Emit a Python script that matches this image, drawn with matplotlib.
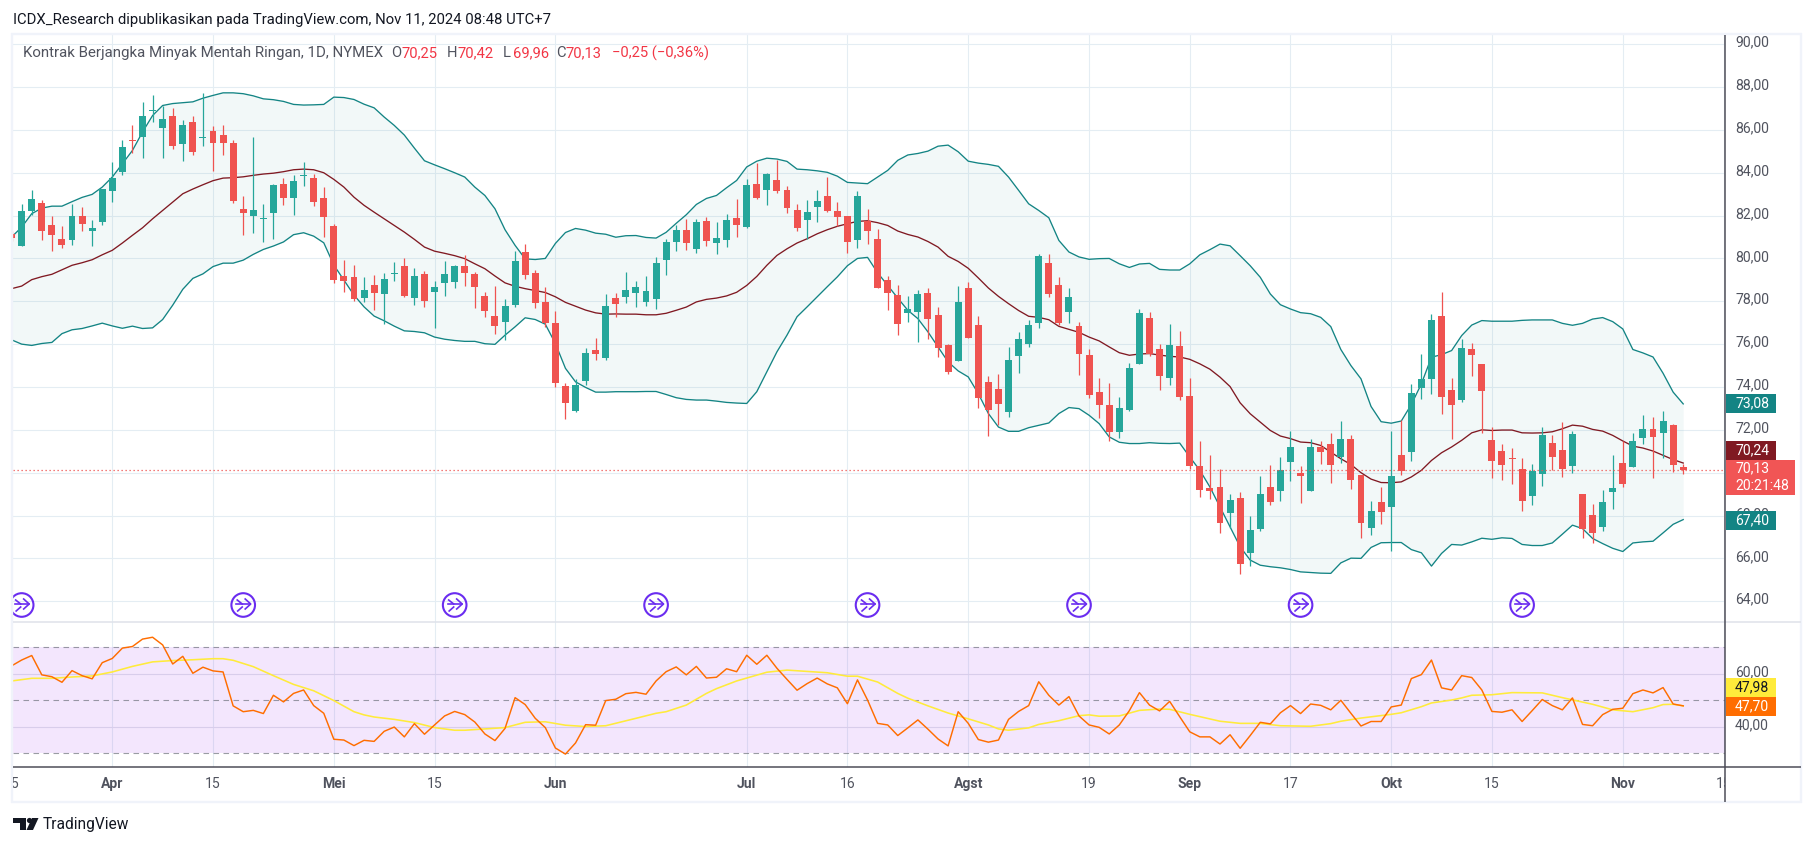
import matplotlib
matplotlib.use("Agg")
import matplotlib.pyplot as plt
from matplotlib.patches import Circle, Polygon, Rectangle

plt.rcParams['font.family'] = ['Roboto', 'DejaVu Sans']

first_bar = -10
opens = [81.15,80.56,82.20,82.57,81.54,80.89,80.84,81.96,81.26,81.68,
83.13,84.02,85.51,85.65,86.89,86.07,86.63,85.32,86.35,85.62,
85.97,85.74,85.41,82.29,81.96,81.84,82.10,83.46,82.80,83.83,
83.74,82.80,81.50,79.17,79.13,78.15,78.75,78.33,79.27,79.64,
78.15,79.27,78.43,78.85,78.89,79.64,79.27,78.24,77.31,77.03,
77.82,80.29,79.31,77.96,76.98,74.04,72.88,74.28,75.72,75.35,
78.15,78.19,78.38,77.96,78.10,79.92,80.76,81.32,80.43,81.74,
80.72,80.85,81.87,81.45,83.46,83.18,83.64,83.18,82.24,81.78,
82.38,82.90,82.20,81.96,80.84,81.73,80.89,78.98,78.28,77.44,
77.48,78.37,77.34,75.94,75.20,78.60,76.88,74.22,73.89,72.82,
75.43,75.99,76.97,79.77,78.74,77.48,76.83,75.48,73.75,73.14,
71.89,72.91,75.06,77.20,75.76,74.40,75.90,73.56,70.30,69.27,
69.32,68.11,68.81,66.24,67.36,69.32,69.13,70.48,69.97,69.13,
71.18,71.32,70.72,71.55,69.88,67.41,68.62,68.39,70.81,70.95,
73.93,74.35,77.33,73.84,73.37,75.75,75.05,71.51,70.99,70.67,
70.16,68.90,69.92,71.37,71.04,70.30,68.99,68.01,67.45,69.08,
70.44,70.25,71.60,72.02,71.83,72.21,70.25]
closes = [80.97,82.20,82.76,81.26,81.08,80.61,81.96,81.59,81.40,83.22,
83.74,85.18,85.46,86.63,86.95,86.49,85.23,86.25,84.99,85.69,
85.41,85.37,82.66,82.10,82.24,81.90,83.41,82.80,83.60,83.88,
82.62,81.92,78.98,78.94,78.10,78.52,78.38,79.03,79.31,78.24,
79.17,78.01,78.66,79.27,79.64,79.31,78.66,77.54,76.84,77.77,
79.87,79.22,77.91,76.98,74.18,73.25,74.09,75.58,75.53,77.77,
77.87,78.52,78.66,78.47,79.78,80.76,81.32,80.72,81.69,80.81,
80.95,81.79,81.54,83.41,82.80,83.92,83.13,82.34,81.40,82.15,
82.66,82.20,81.92,80.75,82.90,81.26,78.60,78.37,76.92,77.62,
78.32,77.16,75.80,74.69,77.95,76.27,73.47,72.91,73.19,75.24,
76.22,76.88,80.10,78.32,76.97,78.18,75.53,73.61,73.14,71.89,
73.00,74.87,77.44,75.53,74.50,75.94,73.52,70.30,69.18,69.13,
67.64,68.71,65.73,67.31,68.99,68.62,70.11,71.18,69.83,71.18,
70.95,70.34,71.55,69.64,67.64,68.20,68.15,69.83,70.06,73.70,
74.39,77.14,73.51,73.18,75.84,75.51,73.79,70.53,70.34,70.62,
68.66,70.06,71.74,70.71,70.16,71.79,67.36,67.17,68.62,69.27,
69.46,71.46,72.02,71.65,72.39,70.34,70.13]
highs = [81.30,82.52,83.18,82.71,81.96,81.50,82.52,82.38,81.78,83.22,
84.51,85.54,86.25,87.28,87.65,87.13,87.00,86.44,86.67,87.70,
86.16,86.21,85.55,82.90,85.69,82.52,83.46,83.74,83.88,84.48,
83.92,83.32,81.59,79.92,79.69,79.13,79.22,79.31,79.83,80.01,
79.55,79.41,78.94,79.87,79.69,80.15,79.36,78.43,78.71,78.10,
80.34,80.67,79.45,78.66,77.54,74.18,74.37,75.81,76.28,78.33,
78.38,79.36,78.94,79.17,80.06,80.90,81.55,81.83,81.83,81.93,
81.69,82.07,82.76,83.69,84.44,83.97,84.58,83.36,82.52,82.71,
83.18,83.78,82.62,81.96,83.13,82.29,81.36,79.16,78.74,78.23,
78.51,78.60,77.72,75.99,78.70,78.88,77.30,74.50,74.59,75.85,
76.55,77.11,80.19,80.19,79.12,78.60,77.02,75.76,74.40,74.17,
73.52,75.10,77.62,77.48,75.99,76.92,76.60,74.44,71.46,70.81,
70.16,68.99,69.09,67.97,69.83,70.34,70.72,71.93,70.30,71.55,
71.46,71.83,72.39,71.74,69.88,68.67,69.32,71.93,72.48,74.12,
75.56,77.42,78.45,74.44,76.26,76.07,75.09,72.11,71.32,71.13,
70.67,70.39,72.11,71.74,72.35,71.93,68.99,68.53,69.18,70.81,
71.46,71.83,72.67,72.62,72.90,72.25,70.42]
lows = [80.80,80.56,82.01,80.84,80.34,80.47,80.61,81.26,80.56,81.54,
82.62,83.88,84.90,84.67,86.35,84.71,85.13,84.57,84.85,85.27,
84.06,84.81,82.57,81.08,81.17,80.75,80.89,82.48,82.01,83.36,
82.43,80.98,78.84,78.43,78.01,77.96,77.59,76.93,78.94,78.19,
77.82,77.73,76.75,78.24,78.61,78.71,77.68,77.26,76.47,76.19,
77.73,79.03,77.68,76.79,74.00,72.50,72.83,74.09,75.25,75.25,
77.26,77.91,77.73,77.77,77.63,79.22,80.34,80.39,80.25,80.57,
80.20,80.53,80.98,81.40,82.76,82.48,83.04,82.10,81.26,80.89,
81.68,82.15,81.50,80.24,80.47,80.66,78.60,77.58,76.41,77.02,
76.09,76.22,75.39,74.59,75.20,76.27,73.00,71.70,72.21,72.59,
74.64,75.85,76.74,78.18,76.88,76.97,74.55,73.47,72.54,71.46,
71.61,72.86,75.06,75.43,73.84,74.08,73.38,70.16,68.85,68.76,
67.18,67.41,65.27,65.64,67.27,68.48,68.67,69.60,68.57,69.13,
70.39,69.50,70.44,69.22,66.94,67.08,67.59,66.34,69.88,70.53,
73.46,73.65,72.72,71.55,73.28,74.53,71.83,69.74,69.64,69.46,
68.20,68.48,69.36,70.11,69.78,69.97,66.94,66.71,67.27,68.29,
69.32,70.25,71.32,69.74,70.67,70.02,69.96]

bb_upper = [81.00,81.46,82.09,82.35,82.44,82.44,82.65,82.85,82.99,83.33,
83.80,84.42,85.04,85.90,86.67,87.14,87.23,87.27,87.31,87.48,
87.61,87.73,87.73,87.69,87.59,87.45,87.41,87.33,87.19,87.16,
87.17,87.19,87.53,87.51,87.42,87.20,87.03,86.60,86.21,85.76,
85.15,84.56,84.37,84.19,84.00,83.80,83.33,82.94,82.32,81.34,
80.61,79.98,79.95,80.00,80.70,81.21,81.40,81.32,81.18,81.13,
80.99,81.06,81.07,80.98,80.95,81.22,81.64,82.04,82.52,82.80,
82.94,83.30,83.64,84.27,84.54,84.68,84.64,84.53,84.17,84.14,
84.09,84.02,83.84,83.55,83.52,83.49,83.80,84.11,84.58,84.83,
84.90,85.01,85.24,85.29,84.98,84.54,84.45,84.39,84.30,83.80,
83.18,82.55,82.24,81.90,80.84,80.30,80.07,79.96,79.99,80.00,
79.75,79.58,79.74,79.77,79.49,79.46,79.46,79.75,80.17,80.41,
80.67,80.59,80.13,79.66,79.12,78.34,77.84,77.64,77.47,77.42,
77.25,76.82,75.75,75.00,74.38,73.09,72.38,72.31,72.41,73.18,
74.15,75.39,75.51,75.70,76.40,76.89,77.10,77.07,77.07,77.07,
77.11,77.13,77.13,77.13,76.97,76.88,76.97,77.17,77.24,77.05,
76.71,75.75,75.59,75.40,74.64,73.76,73.21]
bb_basis = [78.59,78.71,79.01,79.15,79.26,79.47,79.68,79.80,79.94,80.17,
80.38,80.72,81.08,81.43,81.85,82.24,82.63,83.02,83.24,83.44,
83.63,83.75,83.77,83.81,83.88,83.94,83.98,84.05,84.14,84.17,
84.14,84.00,83.69,83.33,82.86,82.48,82.16,81.85,81.54,81.23,
80.89,80.53,80.34,80.24,80.13,79.99,79.75,79.52,79.18,78.86,
78.70,78.59,78.50,78.41,78.21,77.95,77.77,77.59,77.46,77.40,
77.41,77.40,77.40,77.37,77.37,77.44,77.58,77.73,77.97,78.09,
78.15,78.25,78.42,78.74,79.16,79.68,80.14,80.45,80.72,80.92,
81.15,81.34,81.50,81.62,81.73,81.76,81.67,81.54,81.28,81.12,
81.00,80.79,80.53,80.10,79.86,79.54,79.09,78.62,78.23,77.89,
77.57,77.30,77.25,77.14,76.83,76.69,76.55,76.33,76.15,75.87,
75.60,75.48,75.54,75.56,75.49,75.43,75.40,75.29,75.08,74.83,
74.46,74.02,73.26,72.75,72.36,71.97,71.71,71.59,71.43,71.40,
71.27,70.96,70.65,70.38,70.00,69.70,69.54,69.53,69.57,69.80,
70.11,70.57,70.93,71.20,71.51,71.86,72.00,71.97,71.99,71.99,
71.86,71.85,71.86,71.91,72.05,72.22,72.17,72.02,71.94,71.74,
71.48,71.24,71.15,71.01,70.81,70.61,70.45]
bb_lower = [76.20,76.00,75.94,76.03,76.08,76.49,76.67,76.73,76.85,76.98,
76.85,76.74,76.84,76.73,76.76,77.15,77.82,78.56,79.07,79.28,
79.62,79.78,79.78,79.92,80.19,80.42,80.58,80.77,81.11,81.20,
81.04,80.73,79.69,78.99,78.29,77.74,77.31,77.09,76.84,76.62,
76.59,76.53,76.33,76.23,76.17,76.13,76.13,76.02,75.99,76.42,
76.81,77.23,77.15,76.93,76.03,74.87,74.24,73.98,73.76,73.76,
73.78,73.78,73.78,73.79,73.79,73.65,73.50,73.42,73.39,73.39,
73.34,73.28,73.25,73.23,73.78,74.71,75.64,76.42,77.28,77.74,
78.21,78.68,79.14,79.66,80.00,80.05,79.33,78.74,78.15,77.58,
77.19,76.57,75.87,75.17,74.75,74.47,73.69,72.76,72.13,71.93,
71.93,72.10,72.21,72.32,72.76,73.04,72.99,72.68,72.29,71.67,
71.42,71.36,71.36,71.40,71.37,71.36,71.38,70.73,70.11,69.33,
68.40,67.47,66.54,65.92,65.68,65.61,65.56,65.48,65.37,65.34,
65.31,65.30,65.79,66.01,66.00,66.51,66.73,66.74,66.74,66.41,
66.26,65.64,66.23,66.65,66.62,66.77,66.94,66.89,66.96,66.93,
66.65,66.60,66.60,66.72,67.13,67.55,67.39,66.93,66.69,66.47,
66.32,66.72,66.77,66.80,67.19,67.59,67.81]

rsi = [63.0,65.2,66.9,59.6,58.9,56.8,61.2,59.3,58.1,64.2,
65.8,69.7,70.3,73.1,73.8,70.9,63.7,66.6,60.2,62.5,
61.1,60.7,47.9,45.7,46.2,45.0,51.9,49.4,52.6,53.9,
48.0,45.1,35.3,35.0,32.9,34.9,34.5,38.3,39.9,36.2,
41.2,37.2,40.7,44.1,45.8,44.6,41.8,37.3,34.8,39.4,
51.0,48.4,43.2,39.7,32.0,29.7,33.9,40.8,40.6,49.9,
50.4,52.5,53.0,52.3,57.3,60.8,62.6,59.6,62.8,58.4,
58.7,61.9,60.8,67.0,63.6,67.0,62.1,57.9,53.8,56.3,
58.4,56.2,54.7,48.7,57.7,50.1,41.3,40.7,36.7,39.6,
42.6,39.1,35.4,32.8,45.7,41.3,35.2,34.2,35.0,42.8,
45.8,48.0,57.0,51.9,48.2,51.4,44.1,40.7,39.8,37.3,
40.7,46.1,52.9,48.2,46.0,49.6,43.8,38.1,36.2,36.2,
33.5,37.0,31.9,36.7,41.7,41.1,45.3,48.0,45.0,48.6,
48.1,46.4,50.0,45.1,40.3,42.0,42.0,47.5,48.2,58.2,
59.7,65.2,54.7,53.9,59.3,58.6,53.9,45.8,45.5,46.4,
42.0,46.1,50.3,48.0,46.4,50.9,40.9,40.4,44.6,46.6,
47.0,52.5,53.9,52.8,54.8,48.6,47.9]
rsi_ma_bar = [-10,-8,-6,-4,-2,0,2,4,6,8,10,11,12,14,16,18,20,22,24,25,26,28,30,32,34,35,37,39,41,43,45,47,49,
52,54,55,57,59,60,62,63,65,67,69,71,73,74,76,78,79,81,83,85,87,88,89,91,92,94,96,97,98,100,102,104,105,107,
110,112,114,116,119,121,122,124,127,128,130,131,133,134,135,137,139,142,144,147,149,151,153,154,155,156]
rsi_ma = [57.3,58.3,58.3,58.8,59.2,60.7,62.8,64.5,65.0,65.3,65.7,65.7,65.1,62.7,59.3,56.0,53.6,49.9,45.7,44.5,43.7,42.8,41.6,39.7,38.7,38.7,39.2,39.7,41.7,41.9,40.6,40.1,40.4,
43.2,45.1,45.7,48.2,52.6,54.4,57.3,58.4,60.6,61.4,60.9,60.4,59.1,59.1,56.9,52.6,50.8,47.9,45.2,43.0,40.7,39.2,38.7,39.6,40.9,42.3,44.2,44.5,44.0,44.1,46.2,46.7,46.6,44.7,
42.1,41.3,41.3,40.4,40.2,41.2,42.1,43.3,44.7,45.3,47.6,49.0,50.1,50.9,51.9,52.1,52.9,52.8,51.0,48.5,46.4,45.7,47.2,48.4,48.5,47.9]

price_ticks = [64,66,68,70,72,74,76,78,80,82,84,86,88,90]
rsi_ticks = [40,60]
rsi_levels = [30,50,70]
time_bars = [-10,0,10,22,32,44,63,73,85,97,107,117,127,137,150,160]
time_labels = ['15','Apr','15','Mei','15','Jun','Jul','16','Agst','19','Sep','17','Okt','15','Nov','15']
time_major = ['Apr','Mei','Jun','Jul','Agst','Sep','Okt','Nov']
event_bars = [-9,13,34,54,75,96,118,140]
last_close = 70.13
close_label = ['70,13','20:21:48']
bb_labels = ['73,08','70,24','67,40']
rsi_labels = ['47,98','47,70']
title = 'ICDX_Research dipublikasikan pada TradingView.com, Nov 11, 2024 08:48 UTC+7'
legend_name = 'Kontrak Berjangka Minyak Mentah Ringan, 1D, NYMEX'
legend_ohlc = [('O','70,25',391),('H','70,42',447),('L','69,96',503),('C','70,13',556)]
legend_change = '\u22120,25 (\u22120,36%)'

GREEN, RED = '#26A69A', '#EF5350'
TEAL, MAROON = '#138484', '#801922'
GRID = '#E4EDF3'
AXIS = '#4A4A55'
TXT = '#50535E'
W, H = 1814, 846
L_, R_, T_, S_, B_ = 13, 1725, 35, 622, 767

fig = plt.figure(figsize=(W/100, H/100), dpi=100, facecolor='white')
def pos(l, t, r, b):
    return [l/W, 1-b/H, (r-l)/W, (b-t)/H]

ax = fig.add_axes(pos(L_, T_, R_, S_))
ax2 = fig.add_axes(pos(L_, S_, R_, B_))
xlim = ((L_-112.3)/10.07, (R_-112.3)/10.07)
bars = list(range(first_bar, first_bar+len(opens)))

for a in (ax, ax2):
    a.set_xticks(time_bars)
    a.set_xlim(*xlim)
    a.set_yticks([])
    a.tick_params(length=0, labelbottom=False, labelleft=False)
    a.grid(True, axis='x', color=GRID, lw=0.8, zorder=0)
    a.set_axisbelow(True)
    for s in a.spines.values():
        s.set_visible(False)

ax.set_yticks(price_ticks)
ax.set_ylim(63.03, 90.43)
ax.grid(True, axis='y', color=GRID, lw=0.8, zorder=0)
ax.tick_params(length=0, labelleft=False, labelbottom=False)

ax.fill_between(bars, bb_lower, bb_upper, color=TEAL, alpha=0.05, lw=0, zorder=1)
ax.plot(bars, bb_upper, color=TEAL, lw=0.95, zorder=2)
ax.plot(bars, bb_lower, color=TEAL, lw=0.95, zorder=2)
ax.plot(bars, bb_basis, color=MAROON, lw=0.95, zorder=2)
colors = [GREEN if c >= o else RED for o, c in zip(opens, closes)]
ax.vlines(bars, lows, highs, colors=colors, lw=0.9, zorder=3)
ax.bar(bars, [max(abs(c-o), 0.05) for o, c in zip(opens, closes)],
       bottom=[min(o, c) for o, c in zip(opens, closes)],
       width=0.69, color=colors, lw=0, zorder=4)
ax.axhline(last_close, color=RED, lw=0.9, ls=(0, (1, 2.2)), zorder=5)

ax2.set_yticks(rsi_ticks)
ax2.set_ylim(24.83, 79.55)
ax2.grid(True, axis='y', color='#E0E3EB', lw=0.8, zorder=0)
ax2.tick_params(length=0, labelleft=False, labelbottom=False)
ax2.axhspan(min(rsi_levels), max(rsi_levels), color='#9C27F0', alpha=0.115, lw=0, zorder=1)
for lv in rsi_levels:
    ax2.axhline(lv, color='#787B86', lw=0.8, ls=(0, (5, 4)), alpha=0.75, zorder=2)
ax2.plot(rsi_ma_bar, rsi_ma, color='#FFEB3B', lw=1.15, zorder=3)
ax2.plot(bars, rsi, color='#FF6D00', lw=1.05, zorder=4)

ov = fig.add_axes([0, 0, 1, 1], zorder=10)
ov.set_xlim(0, W); ov.set_ylim(H, 0); ov.axis('off'); ov.patch.set_alpha(0)
FONT = 14/(100/72)
LEG = 14.8/(100/72)

def hl(x0, x1, y, c, lw):
    ov.plot([x0, x1], [y, y], color=c, lw=lw*0.72, solid_capstyle='butt')
def vl(x, y0, y1, c, lw):
    ov.plot([x, x], [y0, y1], color=c, lw=lw*0.72, solid_capstyle='butt')

# frame and axis lines
FR = '#F0F3FA'
hl(11, 1802, 34, FR, 2.4); hl(11, 1802, 802, FR, 2.4)
vl(12, 33, 803, FR, 2.4); vl(1801, 33, 803, FR, 2.4)
hl(L_, 1801, S_, '#E0E3EB', 1.6)
hl(L_, 1801, B_, AXIS, 1.5)
vl(1724.6, T_, 802, AXIS, 1.5)

# price scale labels
y_of = lambda v: ax.transData.transform((0, v))[1]
for t in price_ticks:
    y = H - y_of(t)
    ov.text(1735, y-1.5, f'{t},00', color=TXT, fontsize=FONT, va='center', ha='left')
r_y = lambda v: H - ax2.transData.transform((0, v))[1]
for t in rsi_ticks:
    ov.text(1735, r_y(t)-1.5, f'{t},00', color=TXT, fontsize=FONT, va='center', ha='left')

# value tags
def tag(y0, y1, x1, color, lines, tc='white'):
    ov.add_patch(Rectangle((1725.5, y0), x1-1725.5, y1-y0, facecolor=color, edgecolor='none', zorder=5))
    h = (y1-y0)/len(lines)
    for k, s in enumerate(lines):
        ov.text(1735, y0+h*(k+0.5)-0.5, s, color=tc, fontsize=FONT, va='center', ha='left', zorder=6)
tag(394, 413, 1776, TEAL, [bb_labels[0]])
tag(441, 460, 1776, MAROON, [bb_labels[1]])
tag(460, 495, 1795, '#F15555', close_label)
tag(511, 530, 1776, TEAL, [bb_labels[2]])
tag(678, 697, 1776, '#FFEB3B', [rsi_labels[0]], tc='#131722')
tag(697, 716, 1776, '#FF6D00', [rsi_labels[1]])

# time axis labels
clip = Rectangle((L_, B_), R_-L_, 802-B_, transform=ov.transData)
x_of = lambda b: ax.transData.transform((b, 0))[0]
for b, s in zip(time_bars, time_labels):
    t = ov.text(x_of(b), 784, s, color=TXT, fontsize=FONT, ha='center', va='center',
                fontweight='bold' if s in time_major else 'normal')
    t.set_clip_path(clip); t.set_clip_on(True)

# event icons
PUR = '#6A2CF0'
iclip = Rectangle((L_, T_), R_-L_, S_-T_, transform=ov.transData)
for b in event_bars:
    cx, cy = x_of(b), 605
    arts = [Circle((cx, cy), 11.8, facecolor='none', edgecolor=PUR, lw=1.5)]
    ov.add_patch(arts[0])
    arts += ov.plot([cx-7, cx+7], [cy-1, cy-1], color=PUR, lw=1.2)
    arts += ov.plot([cx+2, cx+7.5, cx+2], [cy-6, cy-1, cy+4], color=PUR, lw=1.2)
    arts += ov.plot([cx-6, cx-1], [cy-5, cy-1], color=PUR, lw=1.2)
    arts += ov.plot([cx-5.5, cx-1], [cy+6, cy+2], color=PUR, lw=1.2)
    for art in arts:
        art.set_clip_path(iclip)

# header and legend
ov.text(13, 20, title, color='#131722', fontsize=14.85/(100/72), va='center', ha='left')
ov.text(23, 53, legend_name, color=TXT, fontsize=15/(100/72), va='center', ha='left')
for k, v, x in legend_ohlc:
    ov.text(x, 53, k, color=TXT, fontsize=LEG, va='center', ha='left')
    ov.text(x+10, 53, v, color='#F23645', fontsize=LEG, va='center', ha='left')
ov.text(612, 53, legend_change, color='#F23645', fontsize=LEG, va='center', ha='left')

# logo
LOGO = '#131722'
ov.add_patch(Polygon([(13, 818), (26, 818), (26, 830), (20, 830), (20, 823.5), (13, 823.5)], facecolor=LOGO, edgecolor='none'))
ov.add_patch(Circle((29.5, 820.5), 2.6, facecolor=LOGO, edgecolor='none'))
ov.add_patch(Polygon([(32, 818), (38.5, 818), (33, 830), (26.5, 830)], facecolor=LOGO, edgecolor='none'))
ov.text(43, 824.5, 'TradingView', color='#131722', fontsize=15.5/(100/72), va='center', ha='left')

fig.savefig('out.png', dpi=100, facecolor='white')
